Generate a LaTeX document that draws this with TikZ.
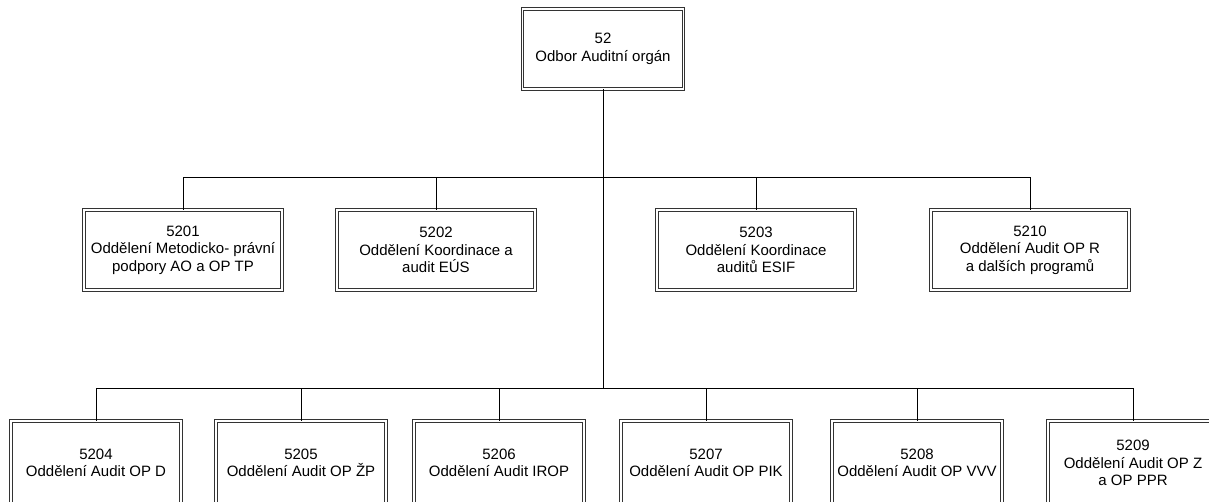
\documentclass[tikz,border=0pt]{standalone}
\usepackage{fontspec}
\setmainfont{Liberation Sans}
\usetikzlibrary{positioning}

\tikzset{
  unitbox/.style={draw=black!80, double, double distance=1.8pt, line width=0.8pt,
    fill=white, align=center, inner sep=2pt, font=\fontsize{15}{17.5}\selectfont},
  topunit/.style={unitbox, minimum width=161pt, minimum height=80pt},
  midunit/.style={unitbox, minimum width=198pt, minimum height=80pt},
  lowunit/.style={unitbox, minimum width=170pt, minimum height=84pt},
  wire/.style={draw=black, line width=0.8pt}
}

\begin{document}
\begin{tikzpicture}[x=1pt, y=-1pt]
  \useasboundingbox (0,0) rectangle (1209,501);
  \clip (0,0) rectangle (1209,501);

  % Odbor
  \node[topunit] (u52) at (603,49) {52\\Odbor Auditní orgán};

  % Oddělení -- upper row
  \node[midunit] (u5201) at (183,250) {5201\\Oddělení Metodicko- právní\\podpory AO a OP TP};
  \node[midunit] (u5202) at (436,250) {5202\\Oddělení Koordinace a\\audit EÚS};
  \node[midunit] (u5203) at (756,250) {5203\\Oddělení Koordinace\\auditů ESIF};
  \node[midunit] (u5210) at (1030,250) {5210\\Oddělení Audit OP R\\a dalších programů};

  % Oddělení -- lower row
  \node[lowunit] (u5204) at (96,463) {5204\\Oddělení Audit OP D};
  \node[lowunit] (u5205) at (301,463) {5205\\Oddělení Audit OP ŽP};
  \node[lowunit] (u5206) at (499,463) {5206\\Oddělení Audit IROP};
  \node[lowunit] (u5207) at (706,463) {5207\\Oddělení Audit OP PIK};
  \node[lowunit] (u5208) at (917,463) {5208\\Oddělení Audit OP VVV};
  \node[lowunit] (u5209) at (1133,463) {5209\\Oddělení Audit OP Z\\a OP PPR};

  % Vedení
  \coordinate (busA) at (603,177);
  \coordinate (busB) at (603,388);
  \draw[wire] (u52.south) -- (busB);
  \foreach \n in {5201,5202,5203,5210}
    \draw[wire] (busA) -| (u\n.north);
  \foreach \n in {5204,5205,5206,5207,5208,5209}
    \draw[wire] (busB) -| (u\n.north);
\end{tikzpicture}
\end{document}
